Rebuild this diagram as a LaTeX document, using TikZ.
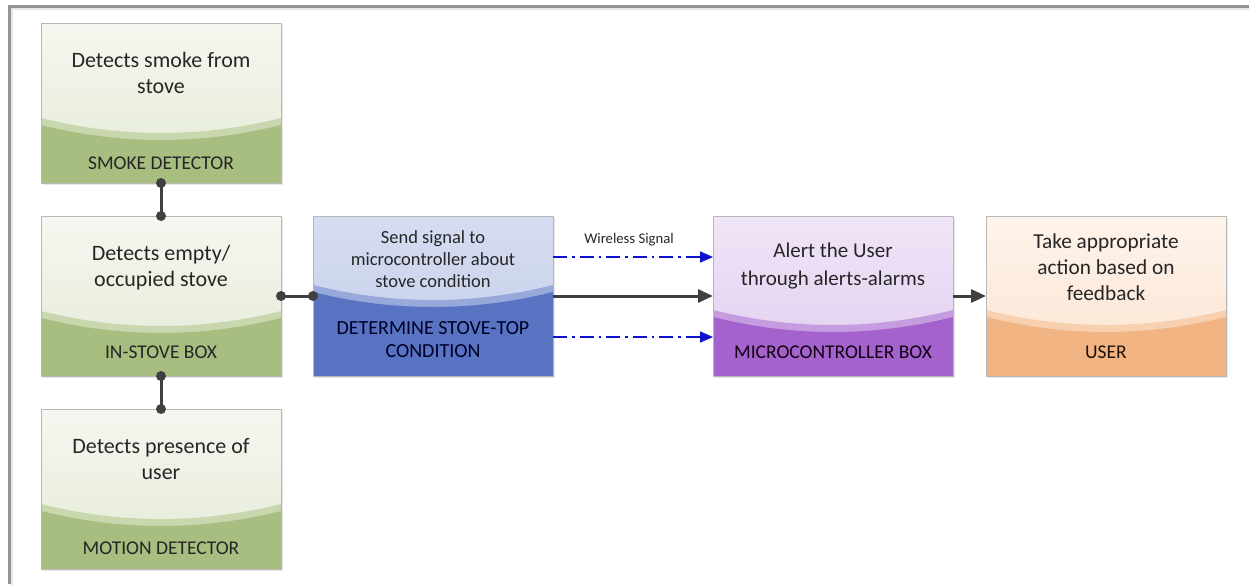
\documentclass[tikz,border=0pt]{standalone}
\usepackage{fontspec}
\setmainfont{Carlito}
\usetikzlibrary{arrows.meta,calc,shadows}
% green
\definecolor{pgA}{HTML}{F5F7F0}
\definecolor{pgB}{HTML}{E3EAD6}
\definecolor{pgS}{HTML}{C9D7AF}
\definecolor{pgC}{HTML}{A8BD80}
% blue
\definecolor{pbA}{HTML}{D6DDF1}
\definecolor{pbB}{HTML}{C3CDEA}
\definecolor{pbS}{HTML}{97A8DB}
\definecolor{pbC}{HTML}{5873C2}
% purple
\definecolor{ppA}{HTML}{F0E5F8}
\definecolor{ppB}{HTML}{E0CDEE}
\definecolor{ppS}{HTML}{C69CE1}
\definecolor{ppC}{HTML}{A462CC}
% orange
\definecolor{poA}{HTML}{FEF3EA}
\definecolor{poB}{HTML}{FBE4D1}
\definecolor{poS}{HTML}{F6D0AF}
\definecolor{poC}{HTML}{F1B482}
\definecolor{txt}{HTML}{262626}
\definecolor{conn}{HTML}{404040}
\definecolor{wire}{HTML}{1010D0}
\tikzset{
  panel/.style={minimum width=240pt, minimum height=160pt, inner sep=0pt, outer sep=0pt,
    drop shadow={opacity=0.18, shadow xshift=2pt, shadow yshift=-2pt}},
  panelline/.style={draw=black!28, line width=0.8pt},
  basetext/.style={align=center, text=txt, inner sep=0pt},
  pgtext/.style={basetext, font=\fontsize{22}{26}\selectfont},
  pglabel/.style={basetext, font=\fontsize{19.5}{23}\selectfont},
  pbtext/.style={basetext, font=\fontsize{18.5}{22}\selectfont},
  pblabel/.style={basetext, font=\fontsize{20}{23}\selectfont, text=black!85!blue},
  pptext/.style={basetext, font=\fontsize{21}{28}\selectfont},
  pplabel/.style={basetext, font=\fontsize{19.5}{23}\selectfont, text=black!85!violet},
  potext/.style={basetext, font=\fontsize{21.3}{26}\selectfont},
  polabel/.style={basetext, font=\fontsize{19.5}{23}\selectfont, text=black!85!brown},
  link/.style={draw=conn, line width=3pt},
  dot/.style={fill=conn},
  mainarrow/.style={draw=conn, line width=3pt, -{Triangle[length=15pt,width=13pt]}},
  wirearrow/.style={draw=wire, line width=1.6pt, dash pattern=on 14pt off 5pt on 2.5pt off 5pt,
    -{Triangle[length=13pt,width=11pt]}},
  framel/.style={draw=black!42, line width=2.2pt},
  smalltext/.style={font=\fontsize{14.7}{16}\selectfont, text=txt, inner sep=0pt}
}
\newcommand\panelbox[8]{%
  \node[panel, top color=#3A, bottom color=#3B] (#1) at (#2) {};
  \fill[#3S] ([yshift=-#4pt]#1.north west) .. controls +(80pt,-20pt) and +(-80pt,-20pt) .. ([yshift=-#4pt]#1.north east) -- (#1.south east) -- (#1.south west) -- cycle;
  \fill[#3C] ([yshift={-#4pt-7pt}]#1.north west) .. controls +(80pt,-20pt) and +(-80pt,-20pt) .. ([yshift={-#4pt-7pt}]#1.north east) -- (#1.south east) -- (#1.south west) -- cycle;
  \draw[panelline] (#1.north west) rectangle (#1.south east);
  \node[#3text] (#1-t) at ([yshift=-#5pt]#1.north) {#7};
  \node[#3label] (#1-l) at ([yshift=#6pt]#1.south) {#8};
}
\begin{document}
\begin{tikzpicture}[x=1pt,y=-1pt]
\useasboundingbox (0,0) rectangle (1249,584);
\fill[white] (0,0) rectangle (1249,584);
% frame
\coordinate (fbl) at (9.5,584);
\coordinate (ftl) at (9.5,6.5);
\coordinate (ftr) at (1249,6.5);
\draw[draw=black!10, line width=2pt] ([xshift=2pt,yshift=-2pt]fbl) -- ([xshift=2pt,yshift=-2pt]ftl) -- ([yshift=-2pt]ftr);
\draw[framel] (fbl) -- (ftl) -- (ftr);

\panelbox{smoke}{161,103}{pg}{95}{50}{20}{Detects smoke from\\stove}{SMOKE DETECTOR}
\panelbox{stove}{161,296}{pg}{95}{52}{24}{Detects empty/\\occupied stove}{IN-STOVE BOX}
\panelbox{motion}{161,489}{pg}{95}{50}{21}{Detects presence of\\user}{MOTION DETECTOR}
\panelbox{det}{433,296}{pb}{69}{43}{36}{Send signal to\\microcontroller about\\stove condition}{DETERMINE STOVE-TOP\\CONDITION}
\panelbox{mc}{833,296}{pp}{94}{50}{24}{Alert the User\\through alerts-alarms}{MICROCONTROLLER BOX}
\panelbox{user}{1106,296}{po}{94}{51}{24}{Take appropriate\\action based on\\feedback}{USER}

% links with dots
\draw[link] (smoke.south) -- (stove.north);
\fill[dot] (smoke.south) circle (5pt);
\fill[dot] (stove.north) circle (5pt);
\draw[link] (stove.south) -- (motion.north);
\fill[dot] (stove.south) circle (5pt);
\fill[dot] (motion.north) circle (5pt);
\draw[link] (stove.east) -- (det.west);
\fill[dot] (stove.east) circle (5pt);
\fill[dot] (det.west) circle (5pt);

% arrows
\draw[mainarrow] (det.east) -- (mc.west);
\draw[mainarrow] (mc.east) -- (user.west);
\draw[wirearrow] ([yshift=39pt]det.east) -- ([yshift=39pt]mc.west);
\draw[wirearrow] ([yshift=-41pt]det.east) -- ([yshift=-41pt]mc.west);
\node[smalltext] (wl) at ([xshift=76pt,yshift=56pt]det.east) {Wireless Signal};
\end{tikzpicture}
\end{document}
